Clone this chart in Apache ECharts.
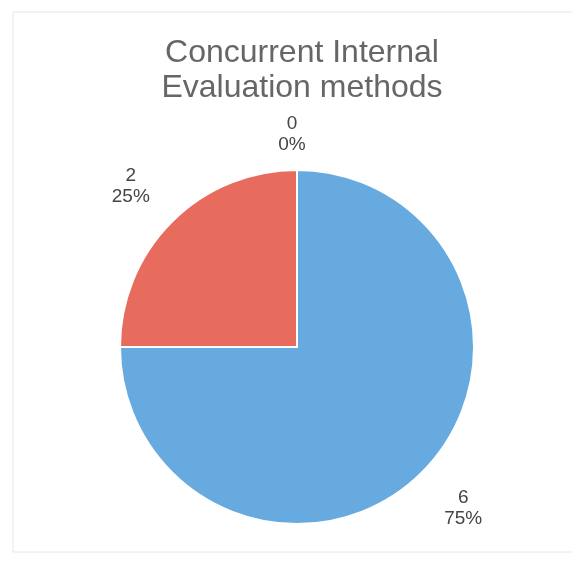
<!DOCTYPE html>
<html>
<head>
<meta charset="utf-8">
<style>
  html, body { margin: 0; padding: 0; background: #ffffff; }
  #chart { width: 572px; height: 578px; }
</style>
<script src="https://cdn.jsdelivr.net/npm/echarts@6/dist/echarts.min.js"></script>
</head>
<body>
<div id="chart"></div>
<script>
// 数据
var categories = ["Method A", "Method B", "Method C"];
var values = [6, 2, 0];
var colors = ["#67aae0", "#e76c5e", "#a5a5a5"];

var chart = echarts.init(document.getElementById("chart"));

var pieData = categories.map(function (name, i) {
  var item = { name: name, value: values[i], itemStyle: { color: colors[i] } };
  // 零值扇区的标签离饼图更近
  if (values[i] === 0) {
    item.labelLine = { show: false, length: 36, length2: 0 };
  }
  return item;
});

var option = {
  backgroundColor: "#ffffff",
  animation: false,
  title: {
    text: "Concurrent Internal\nEvaluation methods",
    left: 302,
    top: 36,
    padding: 0,
    textAlign: "center",
    textStyle: {
      fontFamily: "Liberation Sans",
      fontSize: 32,
      fontWeight: "normal",
      lineHeight: 35,
      color: "#666666"
    }
  },
  graphic: [
    {
      type: "rect",
      shape: { x: 13, y: 12, width: 570, height: 540 },
      style: { fill: "none", stroke: "#e6e6e6", lineWidth: 1 },
      silent: true
    }
  ],
  series: [
    {
      type: "pie",
      center: [297, 347],
      radius: 177,
      startAngle: 90,
      clockwise: true,
      itemStyle: { borderColor: "#ffffff", borderWidth: 2 },
      label: {
        show: true,
        position: "outside",
        formatter: "{c}\n{d}%",
        fontFamily: "Liberation Sans",
        fontSize: 19,
        lineHeight: 21,
        color: "#454545"
      },
      labelLine: { show: false, length: 51, length2: 0 },
      labelLayout: function () {
        return { align: "center", verticalAlign: "middle" };
      },
      emphasis: { disabled: true },
      data: pieData
    }
  ]
};

chart.setOption(option);
</script>
</body>
</html>
